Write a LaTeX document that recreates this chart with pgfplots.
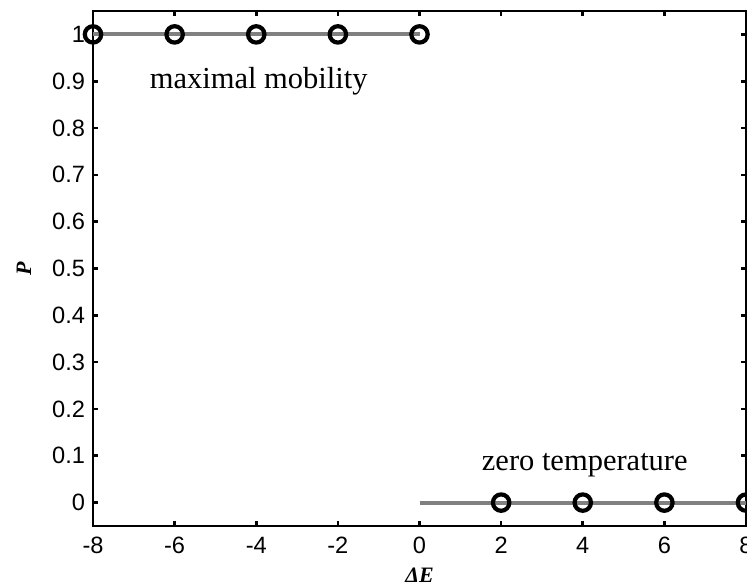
\documentclass[border=0pt]{standalone}
\usepackage{fontspec}
\setmainfont{Liberation Serif}
\newfontfamily\arial{Liberation Sans}
\usepackage{pgfplots}
\pgfplotsset{compat=1.18}
\definecolor{lgray}{RGB}{128,128,128}
\begin{document}
\begin{tikzpicture}
\begin{axis}[
  scale only axis,
  width=326.5pt, height=257.5pt,
  xmin=-8, xmax=8, ymin=-0.05, ymax=1.05,
  xtick={-8,-6,...,8},
  ytick={0,0.1,...,1.0},
  yticklabels={0,0.1,0.2,0.3,0.4,0.5,0.6,0.7,0.8,0.9,1},
  xticklabels={-8,-6,-4,-2,0,2,4,6,8},
  tick align=inside,
  major tick length=2.5pt,
  tick style={line width=1.3pt, black},
  axis line style={line width=0.9pt},
  ticklabel style={font=\arial\fontsize{11.8}{13}\selectfont},
  xticklabel style={yshift=-2pt},
  yticklabel style={xshift=-0.5pt},
  clip=false,
]
\addplot[lgray, line width=2pt, mark=o, mark size=4.1pt,
  mark options={draw=black, line width=2.1pt}]
  coordinates {(-8,1) (-6,1) (-4,1) (-2,1) (0,1)};
\addplot[lgray, line width=2pt, forget plot]
  coordinates {(0,0) (2,0)};
\addplot[lgray, line width=2pt, mark=o, mark size=4.1pt,
  mark options={draw=black, line width=2.1pt}]
  coordinates {(2,0) (4,0) (6,0) (8,0)};
\node[font=\fontsize{15.25}{17}\selectfont] at (axis cs:-3.94,0.90) {maximal mobility};
\node[font=\fontsize{15.25}{17}\selectfont] at (axis cs:4.05,0.081) {zero temperature};
\node[font=\fontsize{11}{12}\selectfont\bfseries\itshape] at ([yshift=-24.5pt]rel axis cs:0.5,0) {ΔE};
\node[rotate=90, font=\fontsize{11}{12}\selectfont\bfseries\itshape] at ([xshift=-34.5pt]rel axis cs:0,0.5) {P};
\coordinate (SW) at (rel axis cs:0,0);
\coordinate (NE) at (rel axis cs:1,1);
\end{axis}
\pgfresetboundingbox
\path[use as bounding box] ([xshift=-46.5pt,yshift=-30.5pt]SW) rectangle ([xshift=0.5pt,yshift=5.5pt]NE);
\end{tikzpicture}
\end{document}
